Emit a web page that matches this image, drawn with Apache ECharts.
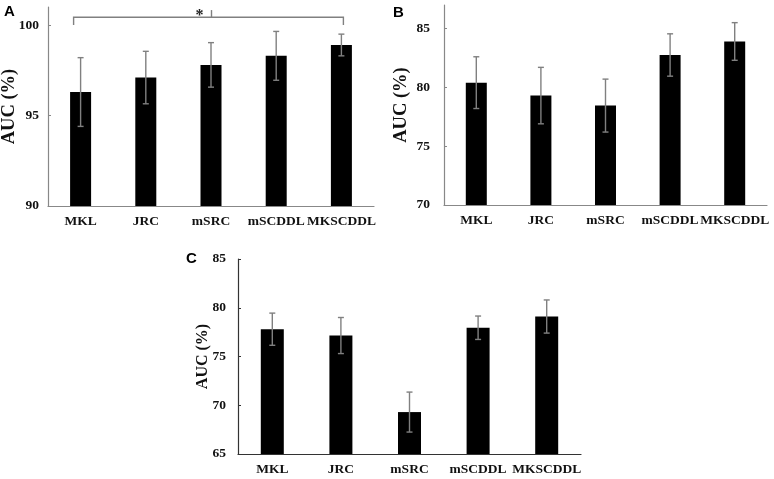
<!DOCTYPE html>
<html>
<head>
<meta charset="utf-8">
<script src="https://cdn.jsdelivr.net/npm/echarts@6/dist/echarts.min.js"></script>
<style>html,body{margin:0;padding:0;background:#fff}#c{width:774px;height:479px}</style>
</head>
<body>
<div id="c"></div>
<script>
var categories = ['MKL', 'JRC', 'mSRC', 'mSCDDL', 'MKSCDDL'];
var meanA = [96.3, 97.1, 97.8, 98.3, 98.9];
var errA  = [1.9, 1.45, 1.23, 1.35, 0.6];
var meanB = [80.4, 79.3, 78.45, 82.75, 83.9];
var errB  = [2.2, 2.4, 2.25, 1.8, 1.6];
var meanC = [77.8, 77.15, 69.3, 77.95, 79.1];
var errC  = [1.65, 1.85, 2.05, 1.2, 1.7];
var ticksA = [90, 95, 100];
var ticksB = [70, 75, 80, 85];
var ticksC = [65, 70, 75, 80, 85];
var bracketA = [0, 4, 100, 100.43, 100.83];

var serif = 'Liberation Serif';
var chart = echarts.init(document.getElementById('c'), null, {renderer: 'canvas'});

function errData(mean, err) {
  return mean.map(function (m, i) { return [i, m - err[i], m + err[i]]; });
}
function errRender(params, api) {
  var x = api.value(0);
  var lo = api.coord([x, api.value(1)]);
  var hi = api.coord([x, api.value(2)]);
  var c = lo[0];
  var st = {stroke: '#808080', lineWidth: 1.4};
  return {type: 'group', children: [
    {type: 'line', shape: {x1: c, y1: lo[1], x2: c, y2: hi[1]}, style: st},
    {type: 'line', shape: {x1: c - 3, y1: lo[1], x2: c + 3, y2: lo[1]}, style: st},
    {type: 'line', shape: {x1: c - 3, y1: hi[1], x2: c + 3, y2: hi[1]}, style: st}
  ]};
}
function bracketRender(params, api) {
  var a = api.coord([api.value(0), api.value(2)]);
  var b = api.coord([api.value(1), api.value(2)]);
  var h = api.coord([api.value(0), api.value(3)])[1];
  var t = api.coord([api.value(0), api.value(4)])[1];
  var x1 = a[0] - 7, x2 = b[0] + 2;
  var mid = (x1 + x2) / 2 + 3;
  var st = {stroke: '#808080', lineWidth: 1.4};
  return {type: 'group', children: [
    {type: 'polyline', shape: {points: [[x1, a[1]], [x1, h], [x2, h], [x2, b[1]]]}, style: Object.assign({fill: null}, st)},
    {type: 'line', shape: {x1: mid, y1: h, x2: mid, y2: t}, style: st},
    {type: 'text', style: {x: mid - 12, y: t + 6, text: '*', fill: '#222', font: 'bold 16px ' + serif, align: 'center', verticalAlign: 'middle'}}
  ]};
}

function xAx(gi, color) {
  return {
    type: 'category', gridIndex: gi, data: categories,
    axisLine: {lineStyle: {color: color, width: 1.2}},
    axisTick: {inside: true, length: 3, lineStyle: {color: color}},
    axisLabel: {margin: 9, color: '#111', fontFamily: serif, fontWeight: 'bold', fontSize: 13.5, interval: 0},
    splitLine: {show: false}
  };
}
function yAx(gi, min, max, ticks, color, gap, nameSize, labelMargin) {
  return {
    type: 'value', gridIndex: gi, min: min, max: max,
    name: 'AUC (%)', nameLocation: 'middle', nameGap: gap, nameMoveOverlap: false,
    nameTextStyle: {color: '#111', fontFamily: serif, fontWeight: 'bold', fontSize: nameSize},
    axisLine: {show: true, lineStyle: {color: color, width: 1.2}},
    axisTick: {show: true, inside: true, length: 3, lineStyle: {color: color}, customValues: ticks},
    axisLabel: {margin: labelMargin, color: '#111', fontFamily: serif, fontWeight: 'bold', fontSize: 13.5, customValues: ticks},
    splitLine: {show: false}
  };
}

var option = {
  animation: false,
  backgroundColor: '#fff',
  grid: [
    {left: 48, top: 7, width: 326, height: 199, containLabel: false, outerBoundsMode: 'none'},
    {left: 444, top: 5, width: 323, height: 200, containLabel: false, outerBoundsMode: 'none'},
    {left: 238, top: 259, width: 343, height: 195, containLabel: false, outerBoundsMode: 'none'}
  ],
  xAxis: [xAx(0, '#888'), xAx(1, '#888'), xAx(2, '#333')],
  yAxis: [
    yAx(0, 90, 101, ticksA, '#888', 29, 18.5, 9),
    yAx(1, 70, 87, ticksB, '#888', 33, 18.5, 14),
    yAx(2, 65, 85, ticksC, '#333', 27, 16, 12)
  ],
  graphic: [
    {type: 'text', left: 4, top: 4, style: {text: 'A', font: 'bold 15px Liberation Sans', fill: '#000'}},
    {type: 'text', left: 393, top: 5, style: {text: 'B', font: 'bold 15px Liberation Sans', fill: '#000'}},
    {type: 'text', left: 186, top: 251, style: {text: 'C', font: 'bold 15px Liberation Sans', fill: '#000'}}
  ],
  series: [
    {type: 'bar', xAxisIndex: 0, yAxisIndex: 0, data: meanA, barWidth: 21, itemStyle: {color: '#000'}},
    {type: 'bar', xAxisIndex: 1, yAxisIndex: 1, data: meanB, barWidth: 21, itemStyle: {color: '#000'}},
    {type: 'bar', xAxisIndex: 2, yAxisIndex: 2, data: meanC, barWidth: 23, itemStyle: {color: '#000'}},
    {type: 'custom', xAxisIndex: 0, yAxisIndex: 0, data: errData(meanA, errA), renderItem: errRender, z: 5},
    {type: 'custom', xAxisIndex: 1, yAxisIndex: 1, data: errData(meanB, errB), renderItem: errRender, z: 5},
    {type: 'custom', xAxisIndex: 2, yAxisIndex: 2, data: errData(meanC, errC), renderItem: errRender, z: 5},
    {type: 'custom', xAxisIndex: 0, yAxisIndex: 0, data: [bracketA], renderItem: bracketRender, clip: false, z: 5}
  ]
};
chart.setOption(option);
</script>
</body>
</html>
